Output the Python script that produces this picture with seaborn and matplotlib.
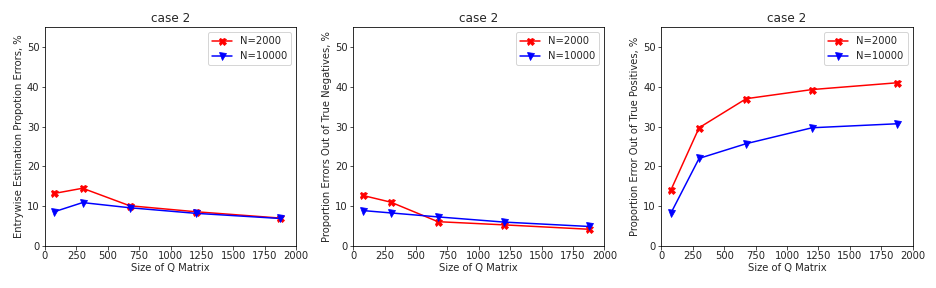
import pandas as pd
import seaborn as sns
import matplotlib
matplotlib.use("Agg")
import matplotlib.pyplot as plt

# Q matrix sizes
q_sizes = [75, 300, 675, 1200, 1875]
series_labels = ["N=2000", "N=10000"]

# panel 1: entrywise estimation errors
entry_n2000 = [13.2, 14.5, 10.1, 8.6, 7.0]
entry_n10000 = [8.6, 10.9, 9.6, 8.2, 6.9]

# panel 2: errors out of true negatives
neg_n2000 = [12.7, 11.0, 6.1, 5.3, 4.2]
neg_n10000 = [8.9, 8.3, 7.3, 6.0, 4.9]

# panel 3: errors out of true positives
pos_n2000 = [14.0, 29.7, 37.0, 39.3, 41.0]
pos_n10000 = [8.2, 22.0, 25.7, 29.7, 30.7]

ylabels = [
    "Entrywise Estimation Propotion Errors, %",
    "Proportion Errors Out of True Negatives, %",
    "Proportion Error Out of True Positives, %",
]


def make_frame(a, b):
    rows = []
    for lab, vals in zip(series_labels, [a, b]):
        for q, v in zip(q_sizes, vals):
            rows.append({"Q": q, "err": v, "N": lab})
    return pd.DataFrame(rows)


sns.set_style("white")
plt.rcParams["font.family"] = ["DejaVu Sans"]
plt.rcParams["font.size"] = 10

fig, axes = plt.subplots(1, 3, figsize=(13, 4), dpi=72)
fig.subplots_adjust(left=0.048, right=0.975, bottom=0.146, top=0.906, wspace=0.227)

panels = [(entry_n2000, entry_n10000), (neg_n2000, neg_n10000), (pos_n2000, pos_n10000)]
for ax, (a, b), ylab in zip(axes, panels, ylabels):
    df = make_frame(a, b)
    sns.lineplot(
        data=df, x="Q", y="err", hue="N", style="N",
        palette={"N=2000": "red", "N=10000": "blue"},
        markers={"N=2000": "X", "N=10000": "v"},
        dashes=False, markersize=7, markeredgecolor=None, linewidth=1.5, ax=ax,
    )
    ax.set_xlim(0, 2000)
    ax.set_ylim(0, 55)
    ax.set_xticks(range(0, 2001, 250))
    ax.set_yticks(range(0, 51, 10))
    ax.tick_params(axis="both", which="both", direction="out", length=3.5,
                   bottom=True, left=True, labelsize=10, pad=2)
    ax.set_title("case 2", fontsize=12, pad=5)
    ax.set_xlabel("Size of Q Matrix", fontsize=10, labelpad=2)
    ax.set_ylabel(ylab, fontsize=10, labelpad=3)
    for s in ax.spines.values():
        s.set_color("black")
        s.set_linewidth(0.8)
    ax.legend(loc="upper right", fontsize=10, frameon=True, handlelength=2)

fig.savefig("out.png", dpi=72, facecolor="white")
